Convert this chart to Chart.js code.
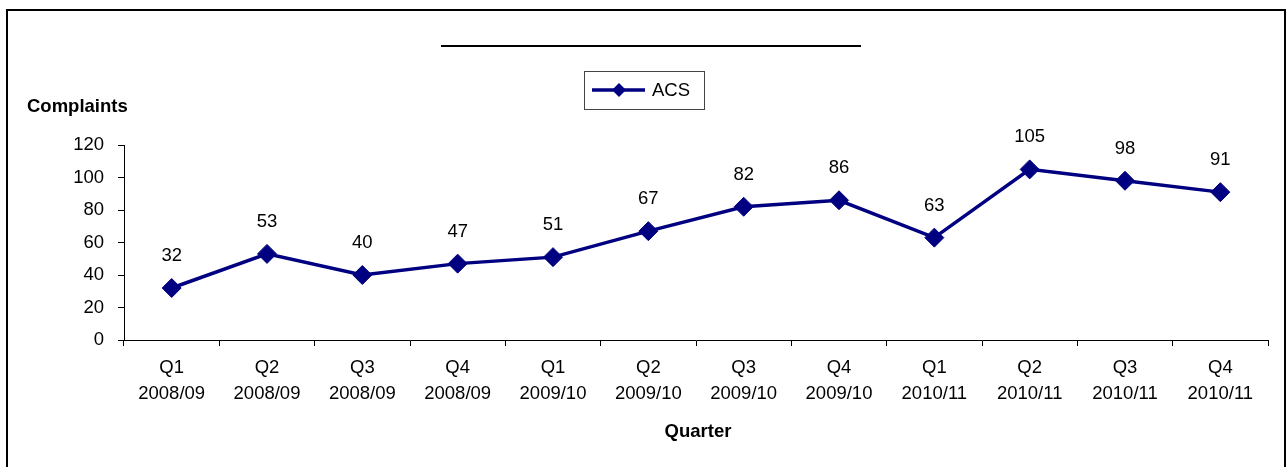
<!DOCTYPE html>
<html>
<head>
<meta charset="utf-8">
<title>ACS Complaints by Quarter</title>
<script src="https://cdn.jsdelivr.net/npm/chart.js@4.4.1/dist/chart.umd.min.js"></script>
<style>
  html, body { margin: 0; padding: 0; background: #fff; }
  #wrap { position: relative; width: 1288px; height: 467px; overflow: hidden; }
</style>
</head>
<body>
<div id="wrap">
  <canvas id="complaintsChart" width="1288" height="467"></canvas>
</div>
<script>
const quarters = [
  ['Q1', '2008/09'], ['Q2', '2008/09'], ['Q3', '2008/09'], ['Q4', '2008/09'],
  ['Q1', '2009/10'], ['Q2', '2009/10'], ['Q3', '2009/10'], ['Q4', '2009/10'],
  ['Q1', '2010/11'], ['Q2', '2010/11'], ['Q3', '2010/11'], ['Q4', '2010/11'],
];
const acsComplaints = [32, 53, 40, 47, 51, 67, 82, 86, 63, 105, 98, 91];
const yTicks = [0, 20, 40, 60, 80, 100, 120];

const seriesLabel = 'ACS';
const yTitle = 'Complaints';
const xTitle = 'Quarter';

const FONT = '"Liberation Sans", Arial, sans-serif';
const FONT_SIZE = 18.5;
const NAVY = '#000080';

Chart.defaults.font.family = FONT;
Chart.defaults.font.size = FONT_SIZE;
Chart.defaults.color = '#000';

// frame, title rule, boxed legend, axis titles
const decorations = {
  id: 'decorations',
  afterDraw(chart) {
    const { ctx, chartArea } = chart;
    ctx.save();

    // outer frame
    ctx.strokeStyle = '#000';
    ctx.lineWidth = 2;
    ctx.strokeRect(7, 10, 1278, 480);

    // rule where the title sits
    ctx.beginPath();
    ctx.moveTo(441, 46);
    ctx.lineTo(861, 46);
    ctx.stroke();

    // legend box
    ctx.lineWidth = 1;
    ctx.strokeStyle = '#444';
    ctx.strokeRect(584.5, 71.5, 120, 38);
    ctx.strokeStyle = NAVY;
    ctx.lineWidth = 3.5;
    ctx.beginPath();
    ctx.moveTo(592, 90);
    ctx.lineTo(645, 90);
    ctx.stroke();
    ctx.fillStyle = NAVY;
    ctx.beginPath();
    ctx.moveTo(612, 90);
    ctx.lineTo(619, 83);
    ctx.lineTo(626, 90);
    ctx.lineTo(619, 97);
    ctx.closePath();
    ctx.fill();
    ctx.fillStyle = '#000';
    ctx.font = FONT_SIZE + 'px ' + FONT;
    ctx.textAlign = 'left';
    ctx.textBaseline = 'middle';
    ctx.fillText(seriesLabel, 652, 91);

    // axis titles
    ctx.font = 'bold ' + FONT_SIZE + 'px ' + FONT;
    ctx.fillText(yTitle, 27, 107);
    ctx.textAlign = 'center';
    ctx.fillText(xTitle, (chartArea.left + chartArea.right) / 2 + 2, 432);

    ctx.restore();
  }
};

// value labels above each marker
const valueLabels = {
  id: 'valueLabels',
  afterDatasetsDraw(chart) {
    const { ctx } = chart;
    const meta = chart.getDatasetMeta(0);
    ctx.save();
    ctx.font = FONT_SIZE + 'px ' + FONT;
    ctx.fillStyle = '#000';
    ctx.textAlign = 'center';
    ctx.textBaseline = 'middle';
    meta.data.forEach((pt, i) => {
      ctx.fillText(String(acsComplaints[i]), pt.x, pt.y - 32);
    });
    ctx.restore();
  }
};

new Chart(document.getElementById('complaintsChart'), {
  type: 'line',
  data: {
    labels: quarters,
    datasets: [{
      label: seriesLabel,
      data: acsComplaints,
      borderColor: NAVY,
      backgroundColor: NAVY,
      borderWidth: 3.5,
      pointStyle: 'rectRot',
      pointRadius: 9.5,
      pointBorderWidth: 1,
      pointBackgroundColor: NAVY,
      pointBorderColor: NAVY,
      tension: 0,
      fill: false,
    }],
  },
  options: {
    responsive: false,
    animation: false,
    devicePixelRatio: 1,
    layout: { padding: { left: 0, top: 145, right: 20, bottom: 0 } },
    plugins: {
      legend: { display: false },
      tooltip: { enabled: false },
      title: { display: false },
    },
    scales: {
      x: {
        offset: true,
        afterFit: (scale) => { scale.height = 127; },
        grid: {
          offset: true,
          drawOnChartArea: false,
          drawTicks: true,
          tickLength: 6,
          color: '#000',
        },
        border: { display: true, color: '#000', width: 1 },
        ticks: {
          maxRotation: 0,
          autoSkip: false,
          padding: 9,
          color: '#000',
          font: { size: FONT_SIZE, lineHeight: '26px' },
        },
      },
      y: {
        min: 0,
        max: 120,
        afterFit: (scale) => { scale.width = 124; },
        afterBuildTicks: (scale) => { scale.ticks = yTicks.map(v => ({ value: v })); },
        grid: {
          drawOnChartArea: false,
          drawTicks: true,
          tickLength: 6,
          color: '#000',
        },
        border: { display: true, color: '#000', width: 1 },
        ticks: {
          padding: 14,
          color: '#000',
          font: { size: FONT_SIZE },
        },
      },
    },
  },
  plugins: [decorations, valueLabels],
});
</script>
</body>
</html>
